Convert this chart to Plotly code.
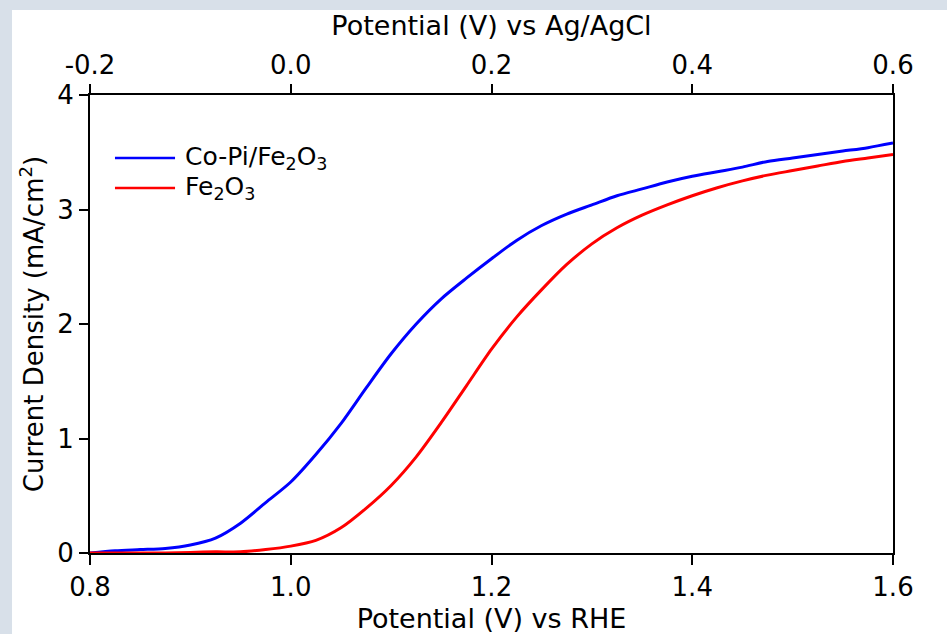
import plotly.graph_objects as go

potential_rhe = [0.80, 0.825, 0.85, 0.875, 0.90, 0.925, 0.95, 0.975, 1.00, 1.025, 1.05, 1.075,
                 1.10, 1.125, 1.15, 1.175, 1.20, 1.225, 1.25, 1.275, 1.30, 1.325, 1.35, 1.375,
                 1.40, 1.425, 1.45, 1.475, 1.50, 1.525, 1.55, 1.575, 1.60]
copi_fe2o3 = [0.00, 0.02, 0.03, 0.04, 0.07, 0.13, 0.26, 0.44, 0.62, 0.86, 1.13, 1.44,
              1.74, 2.00, 2.22, 2.40, 2.57, 2.73, 2.86, 2.96, 3.04, 3.12, 3.18, 3.24,
              3.29, 3.33, 3.37, 3.42, 3.45, 3.48, 3.51, 3.54, 3.58]
fe2o3 = [0.00, 0.00, 0.00, 0.00, 0.005, 0.01, 0.01, 0.03, 0.06, 0.11, 0.22, 0.39,
         0.59, 0.84, 1.14, 1.46, 1.78, 2.06, 2.30, 2.52, 2.70, 2.84, 2.95, 3.04,
         3.12, 3.19, 3.25, 3.30, 3.34, 3.38, 3.42, 3.45, 3.48]

series_names = ["Co-Pi/Fe<sub>2</sub>O<sub>3</sub>", "Fe<sub>2</sub>O<sub>3</sub>"]
series_colors = ["#0000ff", "#ff0000"]

rhe_ticks = [0.8, 1.0, 1.2, 1.4, 1.6]
agcl_ticks = [-0.2, 0.0, 0.2, 0.4, 0.6]
y_ticks = [0, 1, 2, 3, 4]

font = "DejaVu Sans, Verdana, sans-serif"

fig = go.Figure()
for ys, nm, col in zip([copi_fe2o3, fe2o3], series_names, series_colors):
    fig.add_trace(go.Scatter(x=potential_rhe, y=ys, mode="lines", name=nm, showlegend=False,
                             line=dict(color=col, width=3, shape="spline", smoothing=0.8),
                             cliponaxis=False))
fig.add_trace(go.Scatter(x=[], y=[], xaxis="x2", showlegend=False, hoverinfo="skip"))

# manual legend (long sample lines like the reference)
shapes = [
    dict(type="rect", xref="paper", yref="paper", x0=-0.13, x1=-0.0971, y0=-0.3, y1=1.3,
         fillcolor="#d8e0e9", line=dict(width=0), layer="below"),
    dict(type="rect", xref="paper", yref="paper", x0=-0.13, x1=1.2, y0=1.1856, y1=1.3,
         fillcolor="#d8e0e9", line=dict(width=0), layer="below"),
]
annotations = []
legend_y = [0.8624, 0.7969]
for nm, col, ly in zip(series_names, series_colors, legend_y):
    shapes.append(dict(type="line", xref="paper", yref="paper", x0=0.0311, x1=0.1059, y0=ly, y1=ly,
                       line=dict(color=col, width=2.5)))
    annotations.append(dict(xref="paper", yref="paper", x=0.1158, y=ly, xanchor="left", yanchor="middle",
                            text=nm, showarrow=False, font=dict(family=font, size=25, color="black")))

fig.update_layout(
    width=947, height=634,
    margin=dict(l=90, r=54, t=95, b=81),
    paper_bgcolor="white", plot_bgcolor="white",
    showlegend=False,
    xaxis=dict(range=[0.8, 1.6], tickvals=rhe_ticks, ticktext=[f"{v:.1f}" for v in rhe_ticks],
               ticks="outside", ticklen=10, tickwidth=2, tickcolor="black", automargin=False,
               showline=True, linecolor="black", linewidth=2, showgrid=False, zeroline=False,
               tickfont=dict(family=font, size=26, color="black"),
               title=dict(text="Potential (V) vs RHE", font=dict(family=font, size=27, color="black"), standoff=13)),
    xaxis2=dict(range=[-0.2, 0.6], overlaying="x", side="top", anchor="y",
                tickvals=agcl_ticks, ticktext=[f"{v:.1f}" for v in agcl_ticks], automargin=False,
                ticks="outside", ticklen=9, tickwidth=2, tickcolor="black",
                showline=True, linecolor="black", linewidth=2, showgrid=False, zeroline=False,
                tickfont=dict(family=font, size=26, color="black"),
                title=dict(text="Potential (V) vs Ag/AgCl", font=dict(family=font, size=27, color="black"), standoff=6)),
    yaxis=dict(range=[0, 4], tickvals=y_ticks, ticks="outside", ticklen=9, tickwidth=2, tickcolor="black",
               showline=True, linecolor="black", linewidth=2, mirror=True, showgrid=False, zeroline=False,
               automargin=False,
               tickfont=dict(family=font, size=26, color="black"),
               title=dict(text="Current Density (mA/cm<sup>2</sup>)", font=dict(family=font, size=26, color="black"), standoff=6)),
    shapes=shapes,
    annotations=annotations,
)

fig.write_html("out.html")
